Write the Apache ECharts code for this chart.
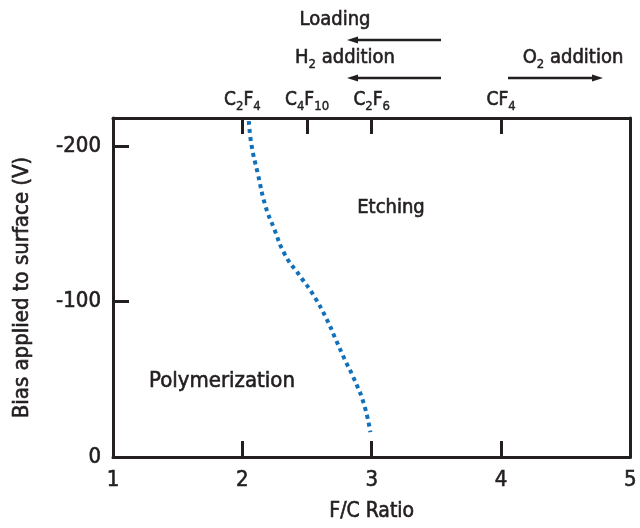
<!DOCTYPE html>
<html>
<head>
<meta charset="utf-8">
<script src="https://cdn.jsdelivr.net/npm/echarts@6/dist/echarts.min.js"></script>
</head>
<body style="margin:0;">
<div id="main" style="width:640px;height:528px;"></div>
<script>
// boundary between polymerization and etching
var fcRatio = [2.05, 2.07, 2.12, 2.18, 2.24, 2.33, 2.44, 2.55, 2.65, 2.72, 2.79, 2.87, 2.94, 2.99];
var bias = [-216, -201, -182, -161, -148, -130, -117, -104, -89, -76, -63, -49, -34, -16];

var xTicks = [1, 2, 3, 4, 5];
var yTicks = [-200, -100, 0];
var gasRatio = [2, 2.5, 3, 4];
var gasNames = ['{a|C}{s|2}{a|F}{s|4}', '{a|C}{s|4}{a|F}{s|10}', '{a|C}{s|2}{a|F}{s|6}', '{a|CF}{s|4}'];

var FONT = "'DejaVu Sans Condensed', 'Liberation Sans Narrow', sans-serif";
var INK = '#231f20';
var THICK = 0.6;   // fake a medium weight

var points = [];
for (var i = 0; i < fcRatio.length; i++) {
    points.push([fcRatio[i], bias[i]]);
}

// rich styles for axis labels (echarts names)
function rich(big, small) {
    return {
        a: {fontSize: big, lineHeight: big + 7, color: INK, fontFamily: FONT, textBorderColor: INK, textBorderWidth: THICK},
        s: {fontSize: small, lineHeight: small, verticalAlign: 'bottom', color: INK, fontFamily: FONT, textBorderColor: INK, textBorderWidth: THICK * 0.7}
    };
}
// rich styles for graphic texts (zrender names)
function zrich(big, small) {
    return {
        a: {fontSize: big, lineHeight: big + 7, fill: INK, stroke: INK, lineWidth: THICK, fontFamily: FONT},
        s: {fontSize: small, lineHeight: small, verticalAlign: 'bottom', fill: INK, stroke: INK, lineWidth: THICK * 0.7, fontFamily: FONT}
    };
}

function label(txt, x, y, size) {
    return {
        type: 'text', x: x, y: y,
        style: {text: txt, fill: INK, font: size + 'px ' + FONT,
                 align: 'center', verticalAlign: 'middle', rich: zrich(size, 13)}
    };
}
function arrow(x1, x2, y) {
    var dir = x2 > x1 ? 1 : -1;
    return [
        {type: 'line', shape: {x1: x1, y1: y, x2: x2 - dir * 8, y2: y}, style: {stroke: INK, lineWidth: 2.5}},
        {type: 'polygon', shape: {points: [[x2, y], [x2 - dir * 11, y - 3.5], [x2 - dir * 11, y + 3.5]]}, style: {fill: INK}}
    ];
}

var myChart = echarts.init(document.getElementById('main'));
var axisLine = {show: true, onZero: false, lineStyle: {color: INK, width: 3}};
var tick = {inside: true, length: 16, lineStyle: {color: INK, width: 3}};
var txt = {color: INK, fontFamily: FONT, textBorderColor: INK, textBorderWidth: THICK};

var option = {
    animation: false,
    grid: {left: 113, right: 7, top: 118, bottom: 71},
    xAxis: [{
        type: 'value', min: 1, max: 5, position: 'bottom',
        name: 'F/C Ratio', nameLocation: 'middle', nameGap: 44,
        nameTextStyle: Object.assign({fontSize: 21}, txt),
        axisLine: axisLine,
        axisTick: Object.assign({customValues: xTicks}, tick),
        axisLabel: Object.assign({customValues: xTicks, margin: 12, fontSize: 22}, txt),
        splitLine: {show: false}
    }, {
        type: 'value', min: 1, max: 5, position: 'top',
        axisLine: axisLine,
        axisTick: Object.assign({customValues: gasRatio}, tick),
        axisLabel: {
            customValues: gasRatio, margin: 5,
            formatter: function (v) { return gasNames[gasRatio.indexOf(v)]; },
            rich: rich(19, 13)
        },
        splitLine: {show: false}
    }],
    yAxis: [{
        type: 'value', min: -218, max: 0, inverse: true, position: 'left',
        name: 'Bias applied to surface (V)', nameLocation: 'middle', nameGap: 80,
        nameTextStyle: Object.assign({fontSize: 22}, txt),
        axisLine: axisLine,
        axisTick: Object.assign({customValues: yTicks}, tick),
        axisLabel: Object.assign({customValues: yTicks, margin: 12, fontSize: 22}, txt),
        splitLine: {show: false}
    }, {
        type: 'value', min: -218, max: 0, inverse: true, position: 'right',
        axisLine: axisLine, axisTick: {show: false}, axisLabel: {show: false},
        splitLine: {show: false}
    }],
    series: [{
        type: 'line',
        data: points,
        smooth: true,
        symbol: 'none',
        lineStyle: {color: '#1170ba', width: 4, type: [4, 4]}
    }],
    graphic: [
        label('{a|Loading}', 335, 20, 20),
        label('{a|H}{s|2}{a| addition}', 345, 58, 20),
        label('{a|O}{s|2}{a| addition}', 573, 58, 20),
        label('{a|Etching}', 391, 208, 20),
        label('{a|Polymerization}', 222, 381, 22)
    ].concat(arrow(441, 347, 40), arrow(441, 347, 78), arrow(508, 603, 78))
};

myChart.setOption(option);
</script>
</body>
</html>
